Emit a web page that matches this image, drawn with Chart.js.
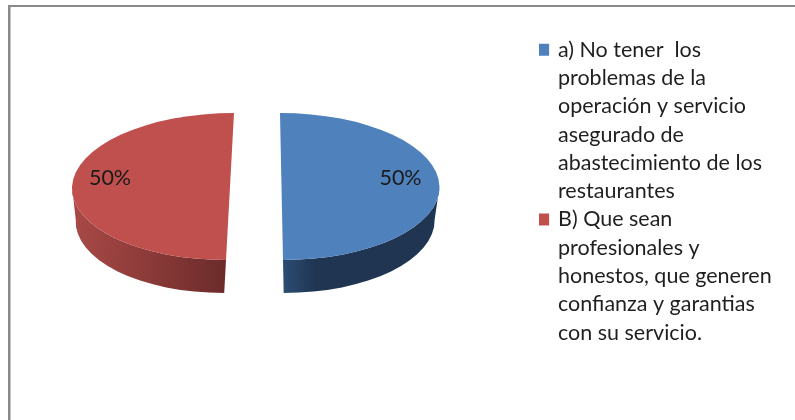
<!DOCTYPE html>
<html lang="es">
<head>
<meta charset="utf-8">
<title>Gráfico circular</title>
<script src="https://cdn.jsdelivr.net/npm/chart.js@4"></script>
<style>
html,body{margin:0;padding:0;background:#fff}
canvas{display:block}
</style>
</head>
<body>
<canvas id="pie" width="795" height="420"></canvas>
<script>
// Answer options, one entry per wrapped legend line
const categories = [
  ["a) No tener  los", "problemas de la", "operación y servicio", "asegurado de", "abastecimiento de los", "restaurantes"],
  ["B) Que sean", "profesionales y", "honestos, que generen", "confianza y garantias", "con su servicio."]
];
const shares = [50, 50];
const topColors = ["#4f81bd", "#c0504d"];
const wallStops = [
  ["#2c4c72", "#1f3552", "#1f3552"],
  ["#a94a47", "#8c3b39", "#6b2b2a"]
];

// Tilted-disc look: the flat pie is squashed, sheared per slice and given a side wall
const DISC = { cx: 255.75, cy: 186.5, squash: 0.465, depth: 33, explode: 25.75, baseWidth: 0.965 };
const SHEAR_RIGHT = 0.0095;
const SHEAR_LEFT = -0.0253;
const LABEL_FONT = "21.5px Lato";

function tilt(ctx, arc, half) {
  const right = Math.cos(half) > 0;
  ctx.translate(DISC.cx + (right ? DISC.explode : -DISC.explode), DISC.cy);
  ctx.transform(1, 0, right ? SHEAR_RIGHT : SHEAR_LEFT, DISC.squash, 0, 0);
  ctx.translate(-arc.x, -arc.y);
}

const tiltedPie = {
  id: "tiltedPie",
  beforeDraw(chart) {
    const { ctx, width, height } = chart;
    ctx.save();
    ctx.fillStyle = "#8a8a8a";
    ctx.fillRect(8, 5, width - 8, 2);
    ctx.fillRect(8, 5, 2, height - 5);
    ctx.fillStyle = "#c4c4c4";
    ctx.fillRect(10, 7, 1, height - 7);
    ctx.restore();
  },
  beforeDatasetDraw(chart, args) {
    const { ctx } = chart;
    args.meta.data.forEach((arc, i) => {
      const half = (arc.startAngle + arc.endAngle) / 2;
      const right = Math.cos(half) > 0;
      const r = arc.outerRadius;
      const from = Math.max(arc.startAngle, 0);
      const to = Math.min(arc.endAngle, Math.PI);

      // side wall below the visible rim; its base is a little narrower
      ctx.save();
      tilt(ctx, arc, half);
      const drop = DISC.depth / DISC.squash;
      const g = right
        ? ctx.createLinearGradient(arc.x, 0, arc.x + r * 0.42, 0)
        : ctx.createLinearGradient(arc.x - r, 0, arc.x, 0);
      wallStops[i].forEach((c, n) => g.addColorStop(n / 2, c));
      ctx.fillStyle = g;
      ctx.beginPath();
      ctx.arc(arc.x, arc.y, r, from, to);
      ctx.ellipse(arc.x, arc.y + drop, r * DISC.baseWidth, r, 0, to, from, true);
      ctx.closePath();
      ctx.fill();
      ctx.restore();

      // top face
      ctx.save();
      tilt(ctx, arc, half);
      arc.draw(ctx);
      ctx.restore();
    });
    return false;
  },
  afterDatasetsDraw(chart) {
    const { ctx } = chart;
    const values = chart.data.datasets[0].data;
    const total = values.reduce((a, b) => a + b, 0);
    ctx.save();
    ctx.font = LABEL_FONT;
    ctx.fillStyle = "#1a1a1a";
    ctx.textAlign = "center";
    ctx.textBaseline = "middle";
    const anchors = [400.5, 110];
    values.forEach((v, i) => {
      ctx.fillText(Math.round(v / total * 100) + "%", anchors[i], 178);
    });
    ctx.restore();
  }
};

new Chart(document.getElementById("pie"), {
  type: "pie",
  data: {
    labels: categories,
    datasets: [{
      data: shares,
      backgroundColor: topColors,
      borderWidth: 0,
      radius: 158
    }]
  },
  options: {
    responsive: false,
    animation: false,
    rotation: 0,
    layout: { padding: { top: 39, right: 23, left: 0, bottom: 0 } },
    plugins: {
      tooltip: { enabled: false },
      legend: {
        position: "right",
        align: "start",
        labels: {
          boxWidth: 8.25,
          boxHeight: 8.25,
          padding: 0,
          color: "#1f1f1f",
          font: { family: "Lato", size: 21.5, lineHeight: 1.316 },
          // the thick same-colour outline brings the swatch back to full size
          generateLabels(chart) {
            return Chart.overrides.pie.plugins.legend.labels.generateLabels(chart)
              .map(item => ({ ...item, lineWidth: 3.75, strokeStyle: item.fillStyle }));
          }
        }
      }
    }
  },
  plugins: [tiltedPie]
});
</script>
</body>
</html>
